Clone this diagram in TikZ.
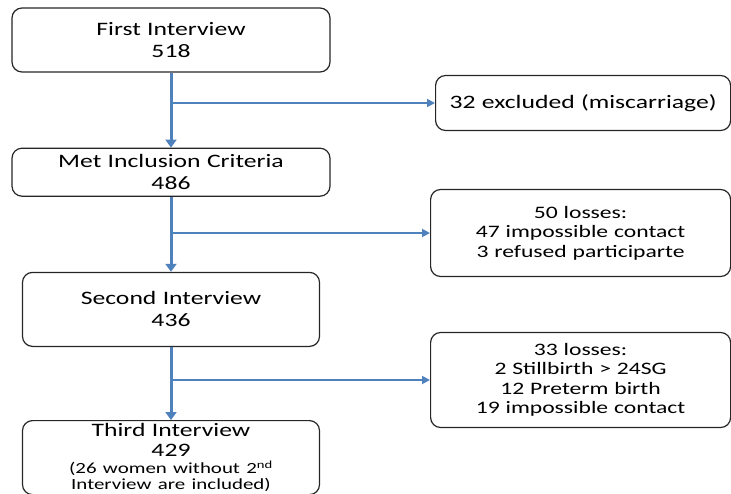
\documentclass[tikz,border=0pt]{standalone}
\usepackage{fontspec}
\setmainfont{Carlito}[FakeStretch=1.35]
\usepackage{xcolor}
\usepackage{tikz}
\usetikzlibrary{arrows.meta,positioning}
\definecolor{flowblue}{RGB}{79,129,189}

\begin{document}
\begin{tikzpicture}[
    x=1pt, y=-1pt,
    font=\fontsize{19}{22}\selectfont,
    stage/.style={draw=black!85, line width=1.2pt, rounded corners=10pt, align=center, inner sep=2pt},
    lossbox/.style={stage, font=\fontsize{17.5}{19.5}\selectfont},
    trunk/.style={-{Triangle[width=11pt,length=8pt]}, flowblue, line width=3pt},
    arrow/.style={-{Triangle[width=8pt,length=8pt]}, flowblue, line width=1.8pt}
]
    \useasboundingbox (0,0) rectangle (731,493);

    % Interviews
    \node[stage, minimum width=318pt, minimum height=64pt, text width=310pt] (first) at (171,40) {First Interview\\518};
    \node[stage, minimum width=318pt, minimum height=48pt, text width=310pt, below=75pt of first] (met) {Met Inclusion Criteria\\486};
    \node[stage, minimum width=297pt, minimum height=74pt, text width=290pt, below=75pt of met] (second) {Second Interview\\436};
    \node[stage, minimum width=297pt, minimum height=74pt, text width=290pt, inner sep=0pt, below=73pt of second,
          font=\fontsize{19}{20}\selectfont] (third)
          {Third Interview\\429\par
           {\fontsize{15.5}{17}\selectfont (26 women without 2\textsuperscript{nd}\par}
           {\fontsize{15.5}{15.5}\selectfont Interview are included)\par}};

    % Losses
    \node[stage, minimum width=295pt, minimum height=55pt, text width=288pt, anchor=west] (excl) at (435,103) {32 excluded (miscarriage)};
    \node[lossbox, minimum width=300pt, minimum height=87pt, text width=292pt, anchor=west] (loss1) at (430,233) {50 losses:\\47 impossible contact\\3 refused participarte};
    \node[lossbox, minimum width=300pt, minimum height=95pt, text width=292pt, anchor=west] (loss2) at (430,380) {33 losses:\\2 Stillbirth > 24SG\\12 Preterm birth\\19 impossible contact};

    % Flow
    \draw[trunk] (first) -- (met);
    \draw[trunk] (met) -- (second);
    \draw[trunk] (second) -- (third);

    \draw[arrow] (first.south |- excl.west) -- (excl);
    \draw[arrow] (met.south |- loss1.west) -- (loss1);
    \draw[arrow] (second.south |- loss2.west) -- (loss2);
\end{tikzpicture}
\end{document}
